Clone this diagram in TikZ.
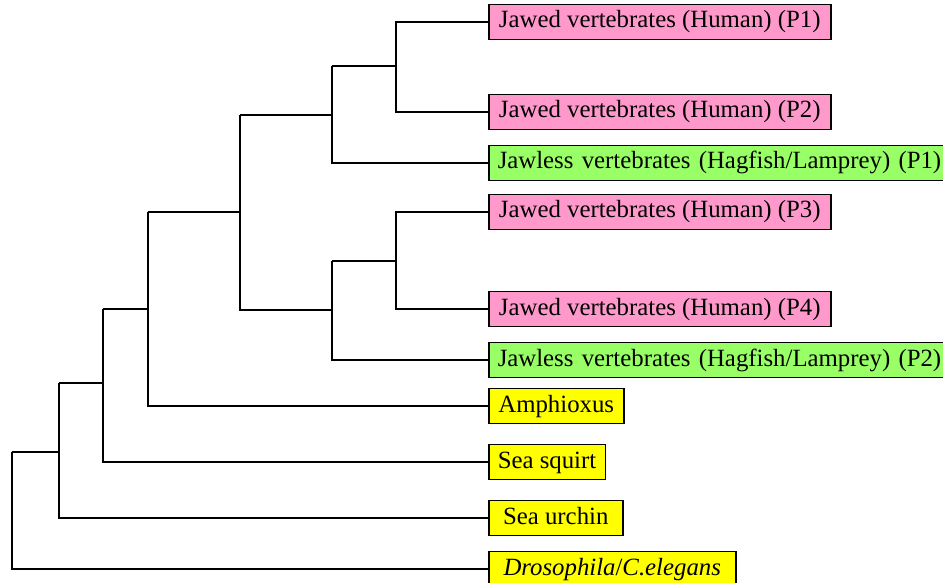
\documentclass[tikz,border=0pt]{standalone}
\usepackage{fontspec}
\setmainfont{Liberation Serif}
\definecolor{jawed}{HTML}{FF99CC}
\definecolor{jawless}{HTML}{99FF66}
\definecolor{outgroup}{HTML}{FFFF00}
\begin{document}
\begin{tikzpicture}[x=1pt, y=-1pt,
  leaf/.style={draw=black, line width=1.5pt, anchor=west, inner xsep=9pt,
    inner ysep=0pt, minimum height=35pt, text height=17pt, text depth=5pt,
    font=\rmfamily\fontsize{24.8}{28}\selectfont},
  jawedbox/.style={leaf, fill=jawed, minimum width=342pt},
  jawlessbox/.style={leaf, fill=jawless, text width=470pt, align=left},
  outbox/.style={leaf, fill=outgroup},
  branch/.style={draw=black, line width=1.5pt}]
\useasboundingbox (0,0) rectangle (943,583);
\clip (0,0) rectangle (943,583);

% leaves
\node[jawedbox]   (p1) at (488,22)  {Jawed vertebrates (Human) (P1)};
\node[jawedbox]   (p2) at (488,112) {Jawed vertebrates (Human) (P2)};
\node[jawlessbox] (j1) at (488,163) {Jawless vertebrates (Hagfish/Lamprey) (P1)};
\node[jawedbox]   (p3) at (488,212) {Jawed vertebrates (Human) (P3)};
\node[jawedbox]   (p4) at (488,309) {Jawed vertebrates (Human) (P4)};
\node[jawlessbox] (j2) at (488,360) {Jawless vertebrates (Hagfish/Lamprey) (P2)};
\node[outbox, minimum width=135pt] (am) at (488,406) {Amphioxus};
\node[outbox, minimum width=112pt] (sq) at (488,462) {Sea squirt};
\node[outbox, minimum width=134pt] (ur) at (488,518) {Sea urchin};
\node[outbox, minimum width=247pt] (dr) at (488,569) {\textit{Drosophila}/\textit{C.elegans}};

% internal nodes of the tree
\coordinate (a) at (396,66);
\coordinate (b) at (332,115);
\coordinate (c) at (396,261);
\coordinate (d) at (332,310);
\coordinate (e) at (240,212);
\coordinate (f) at (148,309);
\coordinate (g) at (103,383);
\coordinate (h) at (59,452);
\coordinate (r) at (12,510);

% branches
\draw[branch] (p1.west) -| (a) |- (p2.west);
\draw[branch] (a) -- (a -| b);
\draw[branch] (a -| b) -- (b) |- (j1.west);
\draw[branch] (p3.west) -| (c) |- (p4.west);
\draw[branch] (c) -- (c -| d);
\draw[branch] (c -| d) -- (d) |- (j2.west);
\draw[branch] (b) -- (b -| e);
\draw[branch] (b -| e) -- (e) |- (d);
\draw[branch] (e) -- (e -| f);
\draw[branch] (e -| f) -- (f) |- (am.west);
\draw[branch] (f) -- (f -| g);
\draw[branch] (f -| g) -- (g) |- (sq.west);
\draw[branch] (g) -- (g -| h);
\draw[branch] (g -| h) -- (h) |- (ur.west);
\draw[branch] (h) -- (h -| r);
\draw[branch] (h -| r) -- (r) |- (dr.west);
\end{tikzpicture}
\end{document}
